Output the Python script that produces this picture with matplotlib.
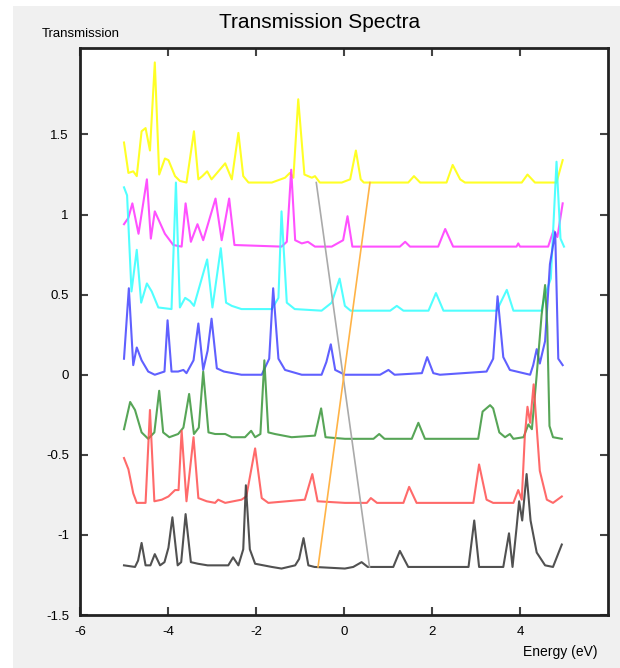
import matplotlib
matplotlib.use("Agg")
import matplotlib.pyplot as plt
from matplotlib.patches import Rectangle

plt.rcParams['font.family'] = ['Liberation Sans', 'DejaVu Sans']
plt.rcParams['axes.unicode_minus'] = False

# energy / transmission, one pair per curve (offset stack)
yellow_x = [-5.0, -4.9, -4.79, -4.71, -4.6, -4.51, -4.41, -4.3, -4.2, -4.07, -3.99, -3.84, -3.73, -3.58,
            -3.41, -3.31, -3.22, -3.11, -3.01, -2.7, -2.55, -2.4, -2.29, -2.17, -1.64, -1.34, -1.23, -1.15,
            -1.04, -0.9, -0.73, -0.66, -0.55, -0.05, 0.14, 0.27, 0.38, 0.45, 1.46, 1.59, 1.73, 2.33, 2.47,
            2.64, 2.75, 4.04, 4.17, 4.34, 4.83, 4.97]
yellow_y = [1.45, 1.26, 1.27, 1.24, 1.52, 1.54, 1.40, 1.95, 1.25, 1.35, 1.34, 1.24, 1.21, 1.2,
            1.52, 1.22, 1.24, 1.27, 1.22, 1.32, 1.22, 1.51, 1.24, 1.2, 1.2, 1.23, 1.26, 1.23,
            1.72, 1.25, 1.23, 1.24, 1.2, 1.2, 1.22, 1.40, 1.22, 1.2, 1.2, 1.24, 1.2, 1.2, 1.31,
            1.22, 1.2, 1.2, 1.25, 1.2, 1.2, 1.34]

magenta_x = [-5.0, -4.9, -4.81, -4.67, -4.48, -4.39, -4.3, -4.07, -3.88, -3.69, -3.6, -3.48, -3.33, -3.2,
             -2.92, -2.78, -2.61, -2.49, -1.42, -1.3, -1.2, -1.11, -0.96, -0.82, -0.66, -0.28, -0.02, 0.08,
             0.19, 1.27, 1.39, 1.5, 2.14, 2.3, 2.48, 3.92, 3.96, 4.0, 4.64, 4.76, 4.85, 4.97]
magenta_y = [0.94, 0.98, 1.07, 0.88, 1.22, 0.85, 1.02, 0.88, 0.81, 0.8, 1.07, 0.83, 0.94, 0.84,
             1.10, 0.84, 1.10, 0.81, 0.8, 0.83, 1.28, 0.84, 0.82, 0.83, 0.8, 0.8, 0.84, 0.99,
             0.8, 0.8, 0.83, 0.8, 0.8, 0.91, 0.8, 0.8, 0.82, 0.8, 0.8, 0.9, 0.86, 1.07]

cyan_x = [-5.0, -4.93, -4.83, -4.71, -4.61, -4.48, -4.37, -4.22, -3.92, -3.82, -3.73, -3.61, -3.5, -3.41,
          -3.11, -2.99, -2.8, -2.68, -2.55, -2.33, -1.64, -1.49, -1.42, -1.3, -1.12, -0.51, -0.28, -0.1,
          0.02, 0.15, 1.05, 1.2, 1.35, 1.92, 2.09, 2.26, 3.47, 3.7, 3.85, 4.49, 4.57, 4.7, 4.83, 4.92, 5.0]
cyan_y = [1.17, 1.12, 0.52, 0.78, 0.45, 0.57, 0.52, 0.42, 0.41, 1.20, 0.42, 0.48, 0.46, 0.43,
          0.72, 0.42, 0.79, 0.45, 0.43, 0.41, 0.41, 0.48, 1.02, 0.45, 0.41, 0.4, 0.45, 0.60,
          0.43, 0.4, 0.4, 0.43, 0.4, 0.4, 0.51, 0.4, 0.4, 0.53, 0.4, 0.4, 0.5, 0.6, 1.33, 0.85, 0.8]

blue_x = [-5.0, -4.89, -4.79, -4.71, -4.6, -4.45, -4.3, -4.08, -4.01, -3.92, -3.77, -3.65, -3.58, -3.42,
          -3.31, -3.2, -3.1, -3.01, -2.89, -2.73, -2.33, -1.87, -1.7, -1.61, -1.49, -1.34, -0.96, -0.51,
          -0.4, -0.3, -0.2, 0.02, 0.82, 1.01, 1.15, 1.77, 1.89, 2.03, 2.18, 3.24, 3.39, 3.49, 3.62, 3.77,
          4.23, 4.3, 4.38, 4.45, 4.57, 4.68, 4.8, 4.87, 4.97]
blue_y = [0.10, 0.54, 0.06, 0.17, 0.09, 0.02, 0.0, 0.02, 0.34, 0.02, 0.02, 0.03, 0.01, 0.09,
          0.32, 0.03, 0.15, 0.35, 0.04, 0.02, 0.0, 0.0, 0.10, 0.54, 0.10, 0.03, 0.0, 0.0,
          0.08, 0.19, 0.03, 0.0, 0.0, 0.03, 0.0, 0.01, 0.11, 0.01, 0.0, 0.02, 0.10, 0.49, 0.11, 0.03,
          0.0, 0.06, 0.16, 0.07, 0.21, 0.69, 0.89, 0.10, 0.06]

green_x = [-5.0, -4.86, -4.75, -4.6, -4.45, -4.31, -4.2, -4.11, -3.97, -3.77, -3.65, -3.52, -3.41, -3.3,
           -3.2, -3.08, -2.93, -2.7, -2.55, -2.25, -2.11, -2.02, -1.9, -1.81, -1.72, -1.57, -1.19, -0.66,
           -0.52, -0.42, 0.02, 0.67, 0.8, 0.92, 1.54, 1.69, 1.84, 3.05, 3.15, 3.32, 3.39, 3.53, 3.66, 3.77,
           3.85, 4.08, 4.19, 4.27, 4.38, 4.49, 4.57, 4.62, 4.67, 4.75, 4.95]
green_y = [-0.34, -0.17, -0.22, -0.36, -0.40, -0.36, -0.10, -0.36, -0.39, -0.37, -0.33, -0.12, -0.37, -0.33,
           0.02, -0.36, -0.37, -0.37, -0.39, -0.39, -0.35, -0.39, -0.37, 0.09, -0.36, -0.37, -0.39, -0.38,
           -0.21, -0.39, -0.4, -0.4, -0.37, -0.4, -0.4, -0.30, -0.4, -0.4, -0.23, -0.19, -0.21, -0.36, -0.39, -0.37,
           -0.4, -0.39, -0.31, -0.34, 0.0, 0.37, 0.56, 0.30, -0.32, -0.39, -0.40]

red_x = [-5.0, -4.9, -4.79, -4.71, -4.51, -4.41, -4.31, -4.14, -3.99, -3.84, -3.76, -3.69, -3.58, -3.42,
         -3.31, -3.12, -2.93, -2.86, -2.7, -2.33, -2.22, -2.02, -1.87, -1.72, -0.89, -0.72, -0.6, 0.02,
         0.52, 0.61, 0.75, 1.35, 1.48, 1.65, 2.94, 3.07, 3.24, 3.39, 3.85, 3.96, 4.04, 4.11, 4.17, 4.23,
         4.31, 4.45, 4.61, 4.75, 4.95]
red_y = [-0.52, -0.59, -0.74, -0.80, -0.80, -0.22, -0.79, -0.78, -0.76, -0.72, -0.72, -0.35, -0.79, -0.39,
         -0.77, -0.79, -0.80, -0.78, -0.80, -0.78, -0.76, -0.46, -0.77, -0.80, -0.78, -0.62, -0.79, -0.8,
         -0.8, -0.77, -0.8, -0.8, -0.70, -0.8, -0.8, -0.56, -0.78, -0.8, -0.8, -0.72, -0.78, -0.38, -0.20, -0.30,
         -0.06, -0.60, -0.78, -0.80, -0.76]

black_x = [-5.0, -4.75, -4.68, -4.6, -4.51, -4.4, -4.3, -4.18, -4.08, -3.99, -3.9, -3.78, -3.7, -3.6,
           -3.48, -3.32, -3.1, -2.63, -2.52, -2.4, -2.29, -2.23, -2.14, -2.02, -1.64, -1.42, -1.11, -1.02,
           -0.92, -0.81, -0.67, 0.02, 0.21, 0.4, 0.54, 1.12, 1.27, 1.46, 2.83, 2.96, 3.07, 3.62, 3.75, 3.83,
           3.92, 3.98, 4.05, 4.15, 4.24, 4.38, 4.57, 4.75, 4.95]
black_y = [-1.19, -1.2, -1.16, -1.05, -1.19, -1.19, -1.12, -1.19, -1.17, -1.08, -0.89, -1.19, -1.17, -0.87,
           -1.17, -1.18, -1.19, -1.19, -1.14, -1.19, -1.09, -0.69, -1.09, -1.18, -1.2, -1.21, -1.19, -1.15,
           -1.02, -1.19, -1.2, -1.21, -1.2, -1.17, -1.2, -1.2, -1.10, -1.2, -1.2, -0.91, -1.2, -1.2, -0.99, -1.2,
           -0.96, -0.79, -0.91, -0.62, -0.91, -1.11, -1.19, -1.2, -1.06]

# the two straight guide lines crossing at the origin
gray_x = [-0.63, 0.58]
gray_y = [1.2, -1.2]
orange_x = [-0.59, 0.59]
orange_y = [-1.2, 1.2]

curves = [
    (yellow_x, yellow_y, '#ffff00'),
    (magenta_x, magenta_y, '#ff33ff'),
    (cyan_x, cyan_y, '#33ffff'),
    (blue_x, blue_y, '#4444ff'),
    (green_x, green_y, '#3a963a'),
    (red_x, red_y, '#ff5050'),
    (black_x, black_y, '#333333'),
]

fig = plt.figure(figsize=(6.2, 6.68), dpi=100, facecolor='white')
fig.patches.append(Rectangle((13 / 620, 0), 1 - 13 / 620, 1 - 6 / 668, transform=fig.transFigure,
                             facecolor='#f0f0f0', edgecolor='none', zorder=-1))

ax = fig.add_axes([80 / 620, 1 - 615 / 668, 528 / 620, 567 / 668])
ax.set_facecolor('white')

for xs, ys, c in curves:
    ax.plot(xs, ys, color=c, lw=1.5, alpha=0.85)
ax.plot(gray_x, gray_y, color='#aaaaaa', lw=1.2)
ax.plot(orange_x, orange_y, color='#ffb347', lw=1.2)

ax.set_xlim(-6, 6)
ax.set_ylim(-1.5, 2.04)
ax.set_xticks([-6, -4, -2, 0, 2, 4])
ax.set_yticks([-1.5, -1, -0.5, 0, 0.5, 1, 1.5])
ax.set_yticklabels(['-1.5', '-1', '-0.5', '0', '0.5', '1', '1.5'])
ax.tick_params(direction='in', top=True, right=True, length=6, width=1.5, color='#444444',
               labelsize=9.5, pad=8)
for s in ax.spines.values():
    s.set_linewidth(2)
    s.set_color('#222222')

fig.text(0.516, 0.967, 'Transmission Spectra', ha='center', va='center', fontsize=15)
fig.text(0.131, 0.949, 'Transmission', ha='center', va='center', fontsize=9.5)
fig.text(0.903, 0.024, 'Energy (eV)', ha='center', va='center', fontsize=10)

fig.savefig('out.png', dpi=100, facecolor=fig.get_facecolor())
